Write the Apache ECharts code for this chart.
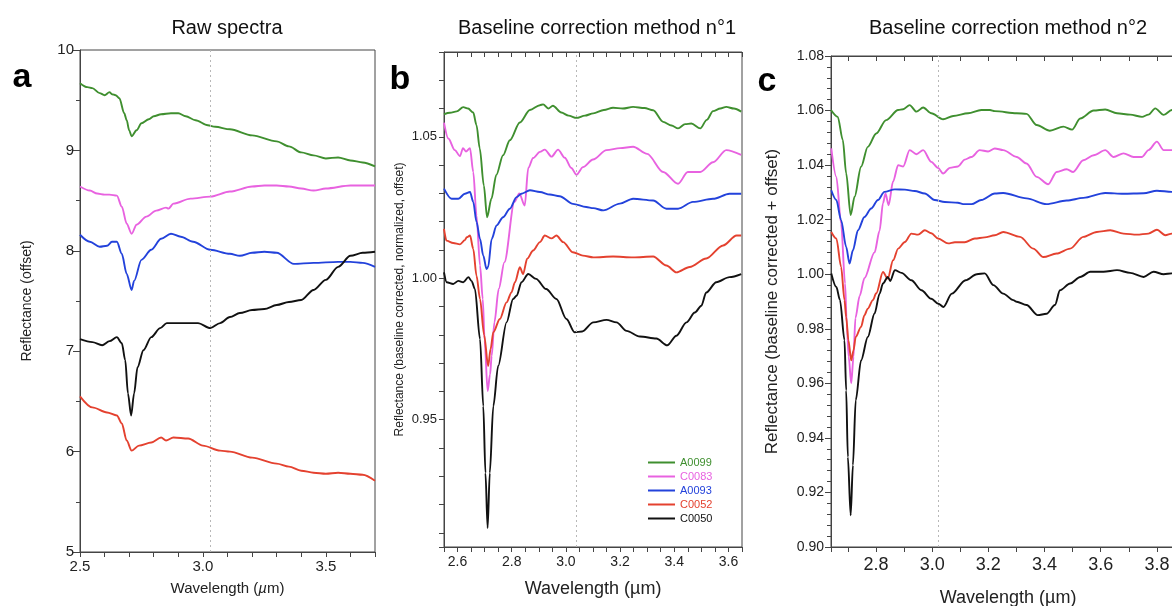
<!DOCTYPE html>
<html><head><meta charset="utf-8">
<script src="https://cdn.jsdelivr.net/npm/echarts@6/dist/echarts.min.js"></script>
<style>html,body{margin:0;padding:0;background:#fff;overflow:hidden}#c{width:1172px;height:606px}</style>
</head><body><div id="c"></div><script>
// ---------- data (wavelength µm, reflectance) ----------
const samples = ['A0099', 'C0083', 'A0093', 'C0052', 'C0050'];
const colors = ['#3f8f2f', '#e862e0', '#2342db', '#e4412f', '#111111'];
const panelTitles = ['Raw spectra', 'Baseline correction method n°1', 'Baseline correction method n°2'];
const panelLetters = ['a', 'b', 'c'];
const markerWavelengths = [3.033, 3.04, 3.02];

// Panel a: raw spectra (offset)
const raw_A0099 = [[2.50,9.67],[2.53,9.63],[2.55,9.62],[2.58,9.57],[2.60,9.55],[2.62,9.58],[2.63,9.56],[2.645,9.55],[2.66,9.52],[2.68,9.37],[2.69,9.30],[2.70,9.20],[2.71,9.14],[2.73,9.20],[2.75,9.27],[2.78,9.31],[2.80,9.34],[2.83,9.36],[2.87,9.37],[2.90,9.37],[2.93,9.34],[2.97,9.30],[3.02,9.25],[3.05,9.235],[3.11,9.21],[3.20,9.15],[3.30,9.09],[3.35,9.04],[3.40,8.98],[3.45,8.95],[3.50,8.92],[3.55,8.93],[3.60,8.90],[3.65,8.88],[3.70,8.84]];
const raw_C0083 = [[2.50,8.64],[2.54,8.60],[2.57,8.57],[2.60,8.56],[2.62,8.56],[2.65,8.55],[2.67,8.44],[2.69,8.27],[2.71,8.17],[2.73,8.26],[2.77,8.34],[2.81,8.40],[2.85,8.43],[2.86,8.42],[2.88,8.47],[2.95,8.52],[3.03,8.54],[3.11,8.59],[3.20,8.64],[3.25,8.65],[3.30,8.65],[3.35,8.64],[3.40,8.62],[3.45,8.60],[3.50,8.62],[3.60,8.65],[3.70,8.65]];
const raw_A0093 = [[2.50,8.16],[2.54,8.09],[2.58,8.04],[2.61,8.05],[2.63,8.09],[2.65,8.09],[2.67,7.97],[2.69,7.77],[2.71,7.61],[2.72,7.70],[2.75,7.91],[2.79,8.01],[2.83,8.12],[2.87,8.17],[2.91,8.14],[2.96,8.09],[3.03,8.01],[3.11,7.97],[3.15,7.95],[3.20,7.98],[3.25,7.99],[3.30,7.98],[3.37,7.87],[3.45,7.88],[3.55,7.89],[3.60,7.89],[3.65,7.88],[3.70,7.84]];
const raw_C0052 = [[2.50,6.55],[2.55,6.44],[2.61,6.39],[2.65,6.36],[2.67,6.28],[2.69,6.11],[2.71,6.01],[2.74,6.06],[2.79,6.09],[2.83,6.14],[2.85,6.11],[2.88,6.14],[2.94,6.13],[3.00,6.06],[3.07,6.01],[3.11,6.00],[3.20,5.94],[3.30,5.88],[3.35,5.85],[3.40,5.81],[3.45,5.79],[3.50,5.78],[3.55,5.79],[3.60,5.78],[3.65,5.77],[3.70,5.71]];
const raw_C0050 = [[2.50,7.12],[2.55,7.09],[2.59,7.06],[2.62,7.10],[2.65,7.14],[2.67,7.08],[2.684,6.91],[2.695,6.58],[2.708,6.36],[2.72,6.58],[2.734,6.84],[2.758,7.01],[2.79,7.14],[2.826,7.23],[2.853,7.28],[2.91,7.28],[2.98,7.28],[3.03,7.23],[3.07,7.28],[3.11,7.34],[3.15,7.38],[3.20,7.41],[3.25,7.42],[3.30,7.46],[3.35,7.49],[3.40,7.51],[3.45,7.61],[3.50,7.71],[3.55,7.84],[3.60,7.95],[3.65,7.98],[3.70,7.99]];

// Panel b: baseline correction method 1
const m1_A0099 = [[2.55,1.058],[2.572,1.0585],[2.597,1.059],[2.621,1.0605],[2.639,1.060],[2.658,1.0586],[2.670,1.0541],[2.682,1.0459],[2.697,1.0328],[2.709,1.0216],[2.725,1.0281],[2.743,1.0365],[2.768,1.0435],[2.793,1.0488],[2.830,1.0551],[2.867,1.0595],[2.904,1.0612],[2.916,1.0615],[2.935,1.060],[2.952,1.061],[2.983,1.0586],[3.01,1.0575],[3.039,1.0567],[3.07,1.0575],[3.101,1.0583],[3.14,1.0595],[3.174,1.0603],[3.21,1.060],[3.248,1.0606],[3.29,1.0602],[3.322,1.0594],[3.359,1.0553],[3.39,1.054],[3.414,1.053],[3.44,1.0545],[3.463,1.0547],[3.496,1.053],[3.52,1.056],[3.543,1.0591],[3.57,1.060],[3.592,1.0606],[3.62,1.060],[3.647,1.0589]];
const m1_C0083 = [[2.55,1.055],[2.566,1.0494],[2.59,1.0453],[2.609,1.0432],[2.62,1.046],[2.631,1.0448],[2.646,1.046],[2.658,1.0376],[2.670,1.0222],[2.683,1.0045],[2.693,0.9927],[2.70,0.978],[2.711,0.9601],[2.72,0.966],[2.726,0.9726],[2.736,0.9844],[2.752,0.9962],[2.773,1.0057],[2.810,1.027],[2.828,1.030],[2.848,1.0257],[2.861,1.039],[2.879,1.0425],[2.904,1.0447],[2.922,1.0455],[2.947,1.043],[2.971,1.0455],[2.996,1.0426],[3.02,1.039],[3.039,1.0366],[3.063,1.0393],[3.10,1.042],[3.15,1.0453],[3.20,1.046],[3.248,1.0465],[3.30,1.044],[3.359,1.0376],[3.414,1.0334],[3.45,1.0376],[3.496,1.0376],[3.543,1.041],[3.592,1.0453],[3.647,1.0436]];
const m1_A0093 = [[2.55,1.0317],[2.578,1.0281],[2.603,1.0281],[2.627,1.0299],[2.646,1.0305],[2.658,1.027],[2.670,1.0199],[2.683,1.0139],[2.695,1.008],[2.707,1.0033],[2.713,1.004],[2.726,1.0139],[2.744,1.0187],[2.768,1.0216],[2.793,1.0246],[2.818,1.0287],[2.836,1.0299],[2.867,1.0311],[2.904,1.0305],[2.941,1.0296],[2.977,1.029],[3.026,1.0263],[3.075,1.0252],[3.101,1.0248],[3.138,1.024],[3.199,1.0264],[3.248,1.0281],[3.322,1.0275],[3.371,1.0246],[3.414,1.0246],[3.469,1.027],[3.543,1.0281],[3.604,1.0299],[3.647,1.0299]];
const m1_C0052 = [[2.55,1.0175],[2.559,1.0133],[2.584,1.0125],[2.609,1.012],[2.627,1.0135],[2.634,1.0145],[2.646,1.0151],[2.658,1.0104],[2.670,1.0009],[2.683,0.9927],[2.698,0.980],[2.713,0.969],[2.722,0.975],[2.732,0.9809],[2.756,0.9856],[2.781,0.9915],[2.799,0.995],[2.812,0.9986],[2.830,1.0039],[2.842,1.0015],[2.857,1.0069],[2.879,1.0098],[2.904,1.0128],[2.922,1.0151],[2.947,1.0141],[2.965,1.0151],[2.99,1.0128],[3.026,1.0092],[3.063,1.008],[3.101,1.0074],[3.174,1.0077],[3.248,1.0074],[3.322,1.0077],[3.371,1.0045],[3.408,1.0021],[3.457,1.004],[3.518,1.007],[3.58,1.0116],[3.63,1.0151],[3.647,1.0151]];
const m1_C0050 = [[2.55,1.0021],[2.56,0.9986],[2.584,0.998],[2.603,0.9991],[2.621,0.9986],[2.640,1.0004],[2.652,0.999],[2.664,0.9962],[2.683,0.9785],[2.695,0.9548],[2.703,0.9312],[2.711,0.9117],[2.719,0.9312],[2.732,0.9548],[2.750,0.969],[2.781,0.9844],[2.805,0.9927],[2.818,0.9938],[2.836,0.9986],[2.861,1.0015],[2.890,0.9998],[2.927,0.9962],[2.965,0.9927],[3.002,0.9856],[3.032,0.9809],[3.06,0.9812],[3.101,0.9844],[3.15,0.9853],[3.187,0.9844],[3.224,0.9814],[3.273,0.9794],[3.334,0.9787],[3.374,0.9763],[3.408,0.9797],[3.445,0.9844],[3.476,0.9879],[3.50,0.9903],[3.518,0.995],[3.555,0.9986],[3.604,1.0004],[3.647,1.0015]];

// Panel c: baseline correction method 2
const m2_A0099 = [[2.640,1.0602],[2.664,1.0577],[2.682,1.0492],[2.694,1.037],[2.710,1.0217],[2.724,1.0284],[2.747,1.0394],[2.771,1.0467],[2.801,1.0516],[2.836,1.0565],[2.879,1.0602],[2.897,1.0605],[2.920,1.062],[2.944,1.0596],[2.968,1.0611],[2.997,1.059],[3.039,1.0568],[3.075,1.058],[3.128,1.059],[3.175,1.0602],[3.206,1.0602],[3.223,1.0598],[3.301,1.059],[3.336,1.0588],[3.372,1.0547],[3.419,1.0526],[3.467,1.0541],[3.498,1.053],[3.527,1.0571],[3.575,1.060],[3.616,1.0604],[3.658,1.059],[3.705,1.0585],[3.747,1.0577],[3.770,1.0585],[3.794,1.0608],[3.824,1.0584],[3.853,1.0602],[3.88,1.0598]];
const m2_C0083 = [[2.641,1.0461],[2.659,1.0357],[2.676,1.0186],[2.690,0.9966],[2.696,0.982],[2.703,0.9697],[2.712,0.960],[2.720,0.9697],[2.727,0.984],[2.742,0.992],[2.759,0.9985],[2.795,1.008],[2.813,1.016],[2.825,1.026],[2.834,1.0296],[2.845,1.0253],[2.861,1.034],[2.879,1.040],[2.897,1.0395],[2.920,1.0455],[2.944,1.044],[2.968,1.0455],[2.997,1.0412],[3.021,1.039],[3.039,1.0369],[3.063,1.039],[3.092,1.0395],[3.116,1.042],[3.140,1.043],[3.169,1.0455],[3.199,1.045],[3.223,1.0461],[3.253,1.0455],[3.301,1.043],[3.336,1.0406],[3.372,1.0357],[3.413,1.033],[3.443,1.0375],[3.479,1.0385],[3.502,1.0375],[3.538,1.0418],[3.575,1.0436],[3.616,1.0455],[3.646,1.043],[3.681,1.0443],[3.717,1.043],[3.747,1.043],[3.770,1.0455],[3.800,1.0486],[3.824,1.0455],[3.853,1.0455],[3.88,1.0452]];
const m2_A0093 = [[2.641,1.0308],[2.659,1.0272],[2.676,1.0198],[2.694,1.010],[2.706,1.0039],[2.718,1.0088],[2.736,1.0161],[2.759,1.021],[2.783,1.0241],[2.807,1.0272],[2.830,1.0302],[2.867,1.0311],[2.903,1.031],[2.938,1.0305],[2.974,1.0296],[3.009,1.0272],[3.045,1.0265],[3.092,1.0262],[3.110,1.0257],[3.140,1.0257],[3.175,1.0272],[3.223,1.0296],[3.253,1.0298],[3.336,1.0278],[3.407,1.0257],[3.479,1.027],[3.538,1.028],[3.616,1.0298],[3.681,1.0295],[3.753,1.0297],[3.800,1.0306],[3.853,1.0302],[3.88,1.0303]];
const m2_C0052 = [[2.641,1.0155],[2.659,1.0131],[2.676,1.0027],[2.688,0.9905],[2.694,0.9843],[2.702,0.9758],[2.712,0.9684],[2.720,0.9721],[2.728,0.977],[2.747,0.9807],[2.759,0.985],[2.771,0.9874],[2.789,0.9905],[2.801,0.993],[2.825,1.0008],[2.842,0.9984],[2.861,1.0051],[2.879,1.0094],[2.903,1.0118],[2.926,1.0149],[2.950,1.0145],[2.974,1.0161],[2.997,1.015],[3.021,1.0131],[3.057,1.0113],[3.081,1.0117],[3.116,1.0117],[3.152,1.0131],[3.187,1.0135],[3.223,1.0143],[3.253,1.0155],[3.313,1.0137],[3.360,1.0094],[3.396,1.0063],[3.443,1.0076],[3.491,1.0094],[3.538,1.0137],[3.586,1.0155],[3.634,1.0161],[3.681,1.0149],[3.729,1.0145],[3.770,1.0149],[3.800,1.0163],[3.830,1.0143],[3.853,1.0149],[3.88,1.0147]];
const m2_C0050 = [[2.641,1.0003],[2.659,0.9953],[2.672,0.9905],[2.688,0.9758],[2.694,0.9574],[2.700,0.933],[2.710,0.9116],[2.718,0.930],[2.728,0.9538],[2.747,0.9684],[2.771,0.977],[2.795,0.9856],[2.813,0.9929],[2.825,0.9966],[2.842,0.999],[2.851,0.9975],[2.867,1.0015],[2.891,1.0005],[2.926,0.9978],[2.962,0.9941],[2.997,0.991],[3.022,0.9892],[3.040,0.988],[3.070,0.9929],[3.119,0.9978],[3.159,1.000],[3.187,1.0003],[3.218,0.996],[3.253,0.9929],[3.289,0.9905],[3.301,0.9899],[3.336,0.9887],[3.376,0.985],[3.407,0.9855],[3.437,0.9887],[3.455,0.9941],[3.491,0.9966],[3.527,0.999],[3.563,1.0009],[3.610,1.0009],[3.658,1.0015],[3.705,1.0005],[3.753,0.999],[3.788,1.0009],[3.824,1.000],[3.853,1.0003],[3.88,1.0001]];

const panelData = [
  [raw_A0099, raw_C0083, raw_A0093, raw_C0052, raw_C0050],
  [m1_A0099, m1_C0083, m1_A0093, m1_C0052, m1_C0050],
  [m2_A0099, m2_C0083, m2_A0093, m2_C0052, m2_C0050]
];

// ---------- chart ----------
const FONT = '"Liberation Sans", Arial, Helvetica, sans-serif';
const FR = '#444';
const TXT = '#222';
const isMult = (v, s) => Math.abs(v / s - Math.round(v / s)) < 1e-6;

const chart = echarts.init(document.getElementById('c'), null, {renderer: 'canvas'});

function baseAxis(extra) {
  return Object.assign({
    type: 'value',
    axisLine: {show: true, onZero: false, lineStyle: {color: FR, width: 1}},
    axisTick: {show: true, length: 5, lineStyle: {color: FR, width: 1}},
    splitLine: {show: false},
    nameTextStyle: {fontFamily: FONT, color: TXT}
  }, extra);
}

const grids = [
  {left: 80, top: 50, width: 295, height: 502},
  {left: 444, top: 52, width: 298, height: 495},
  {left: 831, top: 56, width: 354, height: 491}
].map(g => Object.assign({show: true, borderColor: FR, borderWidth: 1, backgroundColor: 'transparent',
  containLabel: false, outerBoundsMode: 'none'}, g));

const wlRich = (fs) => ({n: {fontSize: fs, color: TXT, fontFamily: FONT}, i: {fontSize: fs, color: TXT, fontFamily: FONT, fontStyle: 'italic'}});

const xAxes = [
  baseAxis({gridIndex: 0, min: 2.5, max: 3.7, interval: 0.1,
    axisLabel: {fontSize: 15, color: TXT, fontFamily: FONT, margin: 7, formatter: v => isMult(v, 0.5) ? v.toFixed(1) : ''},
    name: '{n|Wavelength (}{i|µ}{n|m)}', nameLocation: 'middle', nameGap: 29,
    nameTextStyle: {rich: wlRich(15)}}),
  baseAxis({gridIndex: 1, min: 2.55, max: 3.65, interval: 0.05,
    axisLabel: {fontSize: 14, color: TXT, fontFamily: FONT, margin: 8, formatter: v => isMult(v, 0.2) ? v.toFixed(1) : ''},
    name: 'Wavelength (µm)', nameLocation: 'middle', nameGap: 33,
    nameTextStyle: {fontSize: 18, color: TXT, fontFamily: FONT}}),
  baseAxis({gridIndex: 2, min: 2.64, max: 3.9, minInterval: 0.1, maxInterval: 0.1, splitNumber: 12,
    axisLabel: {fontSize: 18, color: TXT, fontFamily: FONT, margin: 9, formatter: v => isMult(v, 0.2) ? v.toFixed(1) : ''},
    name: 'Wavelength (µm)', nameLocation: 'middle', nameGap: 42,
    nameTextStyle: {fontSize: 18, color: TXT, fontFamily: FONT}}),
  baseAxis({gridIndex: 1, position: 'top', min: 2.55, max: 3.65, interval: 0.05,
    axisTick: {show: true, inside: true, length: 5, lineStyle: {color: FR}}, axisLabel: {show: false}}),
  baseAxis({gridIndex: 2, position: 'top', min: 2.64, max: 3.9, minInterval: 0.1, maxInterval: 0.1, splitNumber: 12,
    axisTick: {show: true, inside: true, length: 5, lineStyle: {color: FR}}, axisLabel: {show: false}})
];

const yAxes = [
  baseAxis({gridIndex: 0, min: 5, max: 10, interval: 1,
    axisTick: {show: true, length: 7, lineStyle: {color: FR}},
    minorTick: {show: true, splitNumber: 2, length: 4, lineStyle: {color: FR}},
    axisLabel: {fontSize: 15, color: TXT, fontFamily: FONT, margin: 6},
    name: 'Reflectance (offset)', nameLocation: 'middle', nameGap: 46,
    nameTextStyle: {fontSize: 14, color: TXT, fontFamily: FONT}}),
  baseAxis({gridIndex: 1, min: 0.905, max: 1.08, minInterval: 0.01, maxInterval: 0.01, splitNumber: 17,
    axisLabel: {fontSize: 13, color: TXT, fontFamily: FONT, margin: 7, formatter: v => isMult(v, 0.05) ? v.toFixed(2) : ''},
    name: 'Reflectance (baseline corrected, normalized, offset)', nameLocation: 'middle', nameGap: 38,
    nameTextStyle: {fontSize: 12, color: TXT, fontFamily: FONT}}),
  baseAxis({gridIndex: 2, min: 0.90, max: 1.08, interval: 0.02,
    axisTick: {show: true, length: 6, lineStyle: {color: FR}},
    minorTick: {show: true, splitNumber: 5, length: 4, lineStyle: {color: FR}},
    axisLabel: {fontSize: 14, color: TXT, fontFamily: FONT, margin: 7, formatter: v => v.toFixed(2)},
    name: 'Reflectance (baseline corrected + offset)', nameLocation: 'middle', nameGap: 50,
    nameTextStyle: {fontSize: 17, color: TXT, fontFamily: FONT}})
];

const series = [];
panelData.forEach((arrs, p) => {
  arrs.forEach((d, i) => {
    const s = {
      type: 'line', name: samples[i], xAxisIndex: p, yAxisIndex: p, data: d,
      showSymbol: false, symbol: 'none', smooth: 0.3, smoothMonotone: 'x',
      lineStyle: {color: colors[i], width: 1.9}, itemStyle: {color: colors[i]},
      emphasis: {disabled: true}, silent: true, animation: false, clip: true
    };
    if (i === 0) {
      s.markLine = {silent: true, symbol: ['none', 'none'], label: {show: false},
        lineStyle: {type: [2, 3], color: '#b8b8b8', width: 1}, emphasis: {disabled: true},
        data: [{xAxis: markerWavelengths[p]}], animation: false};
    }
    series.push(s);
  });
});

const titleCenters = [227, 597, 1008];
const letterPos = [[22, 78], [400, 80], [767, 82]];
const graphic = [];
panelTitles.forEach((t, i) => graphic.push({type: 'text', x: titleCenters[i], y: 28,
  style: {text: t, fill: '#111', font: '20px ' + FONT, textAlign: 'center', textVerticalAlign: 'middle'}}));
panelLetters.forEach((t, i) => graphic.push({type: 'text', x: letterPos[i][0], y: letterPos[i][1],
  style: {text: t, fill: '#000', font: 'bold 34px ' + FONT, textAlign: 'center', textVerticalAlign: 'middle'}}));

chart.setOption({
  animation: false,
  backgroundColor: '#fff',
  textStyle: {fontFamily: FONT},
  grid: grids,
  xAxis: xAxes,
  yAxis: yAxes,
  legend: {
    orient: 'vertical', left: 648, top: 457, padding: 0,
    itemWidth: 27, itemHeight: 2, itemGap: 3, icon: 'rect', selectedMode: false,
    textStyle: {fontSize: 11, fontFamily: FONT, lineHeight: 11},
    data: samples.map((n, i) => ({name: n, textStyle: {color: colors[i]}}))
  },
  graphic: graphic,
  series: series
});
</script></body></html>
